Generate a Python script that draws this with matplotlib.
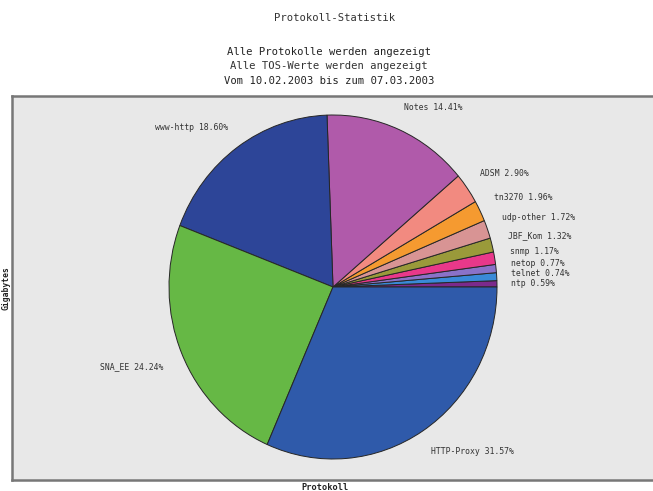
import matplotlib
matplotlib.use("Agg")
import matplotlib.pyplot as plt

labels = ["ntp", "telnet", "netop", "snmp", "JBF_Kom", "udp-other", "tn3270",
          "ADSM", "Notes", "www-http", "SNA_EE", "HTTP-Proxy"]
values = [0.59, 0.74, 0.77, 1.17, 1.32, 1.72, 1.96, 2.90, 14.41, 18.60, 24.24, 31.57]
colors = ["#7b2a8c", "#3a8ad8", "#8a72c8", "#e8388a", "#9a9a3a", "#d89494",
          "#f59a30", "#f28a80", "#b05aaa", "#2d4598", "#66b845", "#2f5aaa"]

# label anchor positions in pixels (left x, center y)
label_px = {
    "ntp": (511, 283), "telnet": (511, 273), "netop": (511, 263),
    "snmp": (510, 251), "JBF_Kom": (508, 236), "udp-other": (502, 218),
    "tn3270": (494, 198), "ADSM": (480, 173), "Notes": (404, 108),
    "www-http": (155, 128), "SNA_EE": (100, 367), "HTTP-Proxy": (431, 452),
}

W, H = 653, 491
fig = plt.figure(figsize=(W / 100, H / 100), dpi=100)
fig.patch.set_facecolor("white")

ax_l, ax_r, ax_t, ax_b = 12, 653, 96, 480
ax = fig.add_axes([ax_l / W, 1 - ax_b / H, (ax_r - ax_l) / W, (ax_b - ax_t) / H])

cx, cy, rx, ry = 333, 287, 164, 172

ax.pie(values, colors=colors, startangle=0, counterclock=True, radius=1,
       wedgeprops=dict(edgecolor="#262626", linewidth=0.7))
ax.set_frame_on(True)
ax.set_facecolor("#e8e8e8")
ax.set_aspect("auto")
ax.set_xlim((ax_l - cx) / rx, (ax_r - cx) / rx)
ax.set_ylim(-(ax_b - cy) / ry, (cy - ax_t) / ry)

def px2data(px, py):
    return (px - cx) / rx, (cy - py) / ry

mono = "DejaVu Sans Mono"
for lab, v in zip(labels, values):
    px, py = label_px[lab]
    x, y = px2data(px, py)
    ax.text(x, y, f"{lab} {v:.2f}%", ha="left", va="center", fontsize=5.9,
            family=mono, color="#333333")

for s in ax.spines.values():
    s.set_visible(True)
    s.set_color("#777777")
    s.set_linewidth(1.8)
ax.spines["right"].set_visible(False)
ax.set_xticks([])
ax.set_yticks([])

fig.text(335 / W, 1 - 18 / H, "Protokoll-Statistik", ha="center", va="center",
         fontsize=7.6, family=mono, color="#333333")
fig.text(329 / W, 1 - 52 / H, "Alle Protokolle werden angezeigt", ha="center",
         va="center", fontsize=7.6, family=mono, color="#222222")
fig.text(329 / W, 1 - 66 / H, "Alle TOS-Werte werden angezeigt", ha="center",
         va="center", fontsize=7.6, family=mono, color="#333333")
fig.text(329 / W, 1 - 81 / H, "Vom 10.02.2003 bis zum 07.03.2003", ha="center",
         va="center", fontsize=7.6, family=mono, color="#222222")

fig.text(6 / W, 1 - 288 / H, "Gigabytes", rotation=90, ha="center", va="center",
         fontsize=5.8, family=mono, fontweight="bold", color="#222222")
fig.text(325 / W, 1 - 488 / H, "Protokoll", ha="center", va="center",
         fontsize=6.2, family=mono, fontweight="bold", color="#222222")

fig.savefig("out.png", dpi=100, facecolor="white")
